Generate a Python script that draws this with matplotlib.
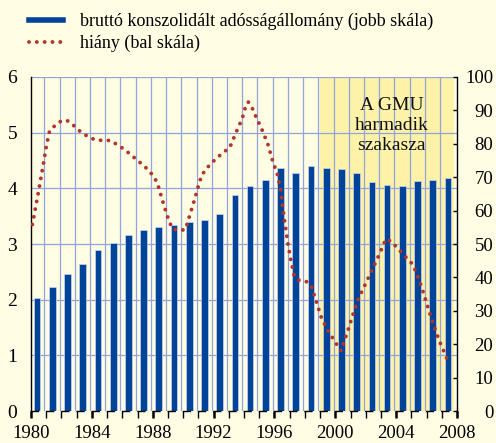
import numpy as np
import matplotlib
matplotlib.use("Agg")
from matplotlib import pyplot as plt
from matplotlib.lines import Line2D

plt.rcParams['font.family'] = ['Liberation Serif', 'DejaVu Serif']

# Bruttó konszolidált adósságállomány (jobb skála, %)
years = np.arange(1980, 2008)
debt = [33.7, 37.0, 41.0, 44.0, 48.2, 50.3, 52.7, 54.2, 55.0, 55.7,
        56.7, 57.2, 59.0, 64.7, 67.5, 69.2, 72.7, 71.3, 73.3, 72.8,
        72.5, 71.2, 68.7, 67.7, 67.5, 68.8, 69.2, 69.8]

# Hiány (bal skála, %) - a görbéről leolvasott pontok
def_x = [1980.09, 1980.28, 1980.48, 1980.66, 1980.84, 1981.01, 1981.23, 1981.63,
         1982.03, 1982.44, 1982.84, 1983.24, 1983.68, 1984.14, 1984.67, 1985.22,
         1985.63, 1986.08, 1986.49, 1986.92, 1987.31, 1987.71, 1988.04, 1988.30,
         1988.59, 1988.90, 1989.07, 1989.27, 1989.69, 1990.15, 1990.46, 1990.77,
         1991.05, 1991.21, 1991.49, 1991.84, 1992.24, 1992.66, 1993.06, 1993.47,
         1993.89, 1994.13, 1994.28, 1994.51, 1994.71, 1995.17, 1995.57, 1995.85,
         1996.19, 1996.40, 1996.53, 1996.67, 1996.89, 1997.09, 1997.31, 1997.66,
         1998.18, 1998.45, 1998.78, 1999.09, 1999.57, 2000.15, 2000.39, 2000.54,
         2000.89, 2001.20, 2001.55, 2002.01, 2002.46, 2002.90, 2003.12, 2003.32,
         2003.65, 2004.04, 2004.37, 2004.75, 2005.10, 2005.50, 2005.83, 2006.14,
         2006.47, 2006.82, 2007.23, 2007.43]
def_y = [3.35, 3.63, 3.92, 4.20, 4.48, 4.76, 5.04, 5.14,
         5.22, 5.21, 5.12, 5.02, 4.94, 4.88, 4.86, 4.86,
         4.79, 4.71, 4.62, 4.52, 4.43, 4.33, 4.22, 4.10,
         3.83, 3.55, 3.42, 3.28, 3.24, 3.26, 3.54, 3.82,
         4.09, 4.23, 4.34, 4.45, 4.55, 4.65, 4.73, 5.00,
         5.26, 5.50, 5.55, 5.46, 5.33, 5.06, 4.79, 4.52,
         4.25, 3.98, 3.69, 3.41, 2.99, 2.69, 2.41, 2.34,
         2.32, 2.22, 1.94, 1.67, 1.42, 1.17, 1.08, 1.22,
         1.50, 1.77, 2.04, 2.30, 2.56, 2.82, 2.96, 3.09,
         3.05, 2.94, 2.84, 2.73, 2.63, 2.36, 2.09, 1.81,
         1.54, 1.27, 1.01, 0.87]

left_ticks = [0, 1, 2, 3, 4, 5, 6]
right_ticks = [0, 10, 20, 30, 40, 50, 60, 70, 80, 90, 100]
x_labels = [1980, 1984, 1988, 1992, 1996, 2000, 2004, 2008]

BG = '#FFFDE4'
SHADE = '#FDF2A8'
GRID = '#93A3DC'
BLUE = '#00449A'
RED = '#B2352B'
DOTS = (0, (0.01, 2.0))

fig = plt.figure(figsize=(4.96, 4.43), dpi=100, facecolor=BG)
ax = fig.add_axes([0.0625, 0.0722, 0.859, 0.754])
ax.set_facecolor(BG)
ax2 = ax.twinx()

# GMU harmadik szakasza
ax.axvspan(1999, 2007.8, color=SHADE, lw=0, zorder=0)
for yr in range(1981, 2008):
    ax.axvline(yr - 0.12, color=GRID, lw=0.9, zorder=1)
for v in left_ticks[1:]:
    ax.axhline(v * 100 / 6, color=GRID, lw=0.9, zorder=1)

ax.bar(years + 0.4, debt, width=0.44, color=BLUE, edgecolor='#C9D5F2',
       linewidth=0.5, zorder=2)
ax.set_xlim(1980, 2008)
ax.set_ylim(0, 100)
ax.yaxis.tick_right()
ax.set_yticks(right_ticks)
ax.tick_params(axis='y', direction='in', length=3, width=1, pad=26, labelsize=13.5)
for lbl in ax.get_yticklabels():
    lbl.set_ha('right')

ax.set_xticks(x_labels)
ax.set_xticks(range(1980, 2009), minor=True)
ax.tick_params(axis='x', which='major', length=5, width=1.8, pad=5, labelsize=13.5)
ax.tick_params(axis='x', which='minor', length=5, width=1)

ax.spines['top'].set_visible(False)
ax.spines['left'].set_linewidth(1.0)
ax.spines['right'].set_linewidth(1.0)
ax.spines['bottom'].set_linewidth(1.0)
ax.spines['bottom'].set_linestyle((0, (5.0, 5.94)))

ax2.yaxis.tick_left()
ax2.set_ylim(0, 6)
ax2.set_yticks(left_ticks)
ax2.tick_params(axis='y', length=0, pad=10, labelsize=14)
for s in ax2.spines.values():
    s.set_visible(False)
ax2.plot(def_x, def_y, color=RED, lw=2.8, linestyle=DOTS,
         dash_capstyle='round', zorder=3)

ax2.text(2003.7, 5.13, 'A GMU\nharmadik\nszakasza', ha='center', va='center',
         fontsize=14, linespacing=1.22, color='#111111')

handles = [Line2D([0], [0], color=BLUE, lw=4),
           Line2D([0], [0], color=RED, lw=2.8, linestyle=DOTS,
                  dash_capstyle='round')]
labels = ['bruttó konszolidált adósságállomány (jobb skála)', 'hiány (bal skála)']
fig.legend(handles, labels, loc='upper left', bbox_to_anchor=(29 / 496, 1 - 13 / 443),
           frameon=False, fontsize=13, handlelength=1.9, handletextpad=0.9,
           borderpad=0, borderaxespad=0, labelspacing=0.25)

fig.savefig('out.png', dpi=100, facecolor=BG)
